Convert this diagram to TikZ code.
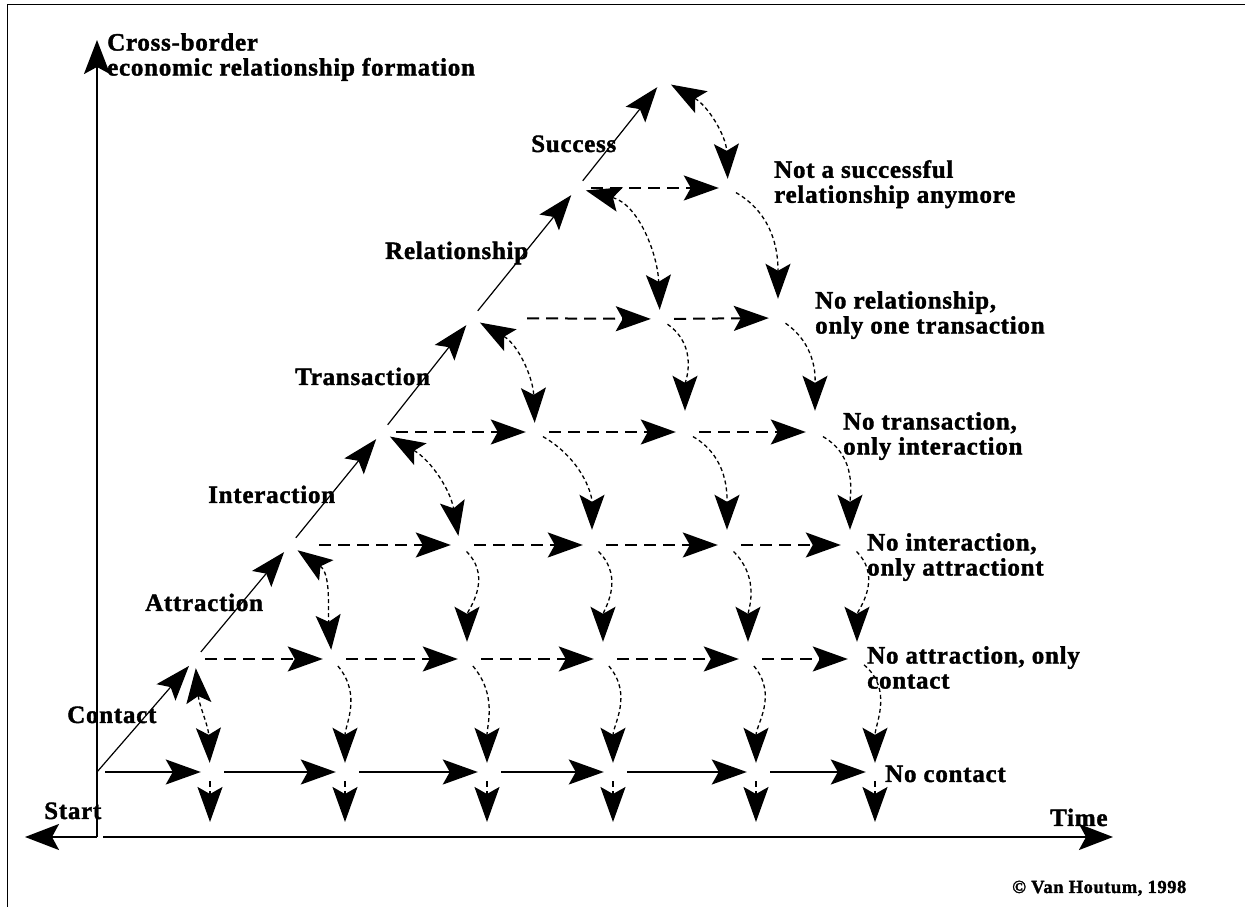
\documentclass[tikz,border=0pt]{standalone}
\usepackage{fontspec}
\setmainfont{Liberation Serif}[LetterSpace=3,BoldFeatures={FakeBold=1.5}]
\usetikzlibrary{arrows.meta}
\tikzset{
  bigtip/.tip={Stealth[length=35pt,width=25pt,inset=7pt]},
  axtip/.tip={Stealth[length=34pt,width=26pt,inset=7pt]},
  pt/.style={circle,inner sep=0pt,minimum size=18pt},
  axisline/.style={line width=2pt,-axtip},
  solidh/.style={line width=2pt,-bigtip,shorten <=5pt},
  dashh/.style={line width=2pt,dash pattern=on 12pt off 7pt,-bigtip,shorten <=5pt},
  diagline/.style={line width=1.2pt,-bigtip},
  drop/.style={line width=1.3pt,dash pattern=on 4pt off 3pt,-bigtip},
  dbl/.style={line width=1.3pt,dash pattern=on 4pt off 3pt,bigtip-bigtip},
  downarr/.style={line width=2pt,dash pattern=on 6pt off 4pt,-bigtip},
  lbl/.style={font=\fontsize{25}{25}\selectfont\bfseries,inner sep=0pt,align=left},
  frameline/.style={line width=1pt},
}
\begin{document}
\begin{tikzpicture}[x=1pt,y=1pt]
\useasboundingbox (0,0) rectangle (1245,907);
\draw[frameline] (7,0) -- (7,902) -- (1245,902);

% axes
\coordinate (O) at (97,70);
\coordinate (Oright) at (103,70);
\coordinate (xtip) at (1113,70);
\coordinate (xneg) at (25,70);
\coordinate (ytip) at (97,867);
\draw[axisline] (O) -- (ytip);
\draw[axisline] (Oright) -- (xtip);
\draw[axisline] (O) -- (xneg);
\coordinate (low) at (0,85);

% grid points
\coordinate (p00) at (97,135);
\node[pt] (p01) at (210,135) {};
\node[pt] (p02) at (345,135) {};
\node[pt] (p03) at (487,135) {};
\node[pt] (p04) at (613,135) {};
\node[pt] (p05) at (756,135) {};
\node[pt] (p06) at (875,135) {};
\node[pt] (p11) at (195,248) {};
\node[pt] (p12) at (332,248) {};
\node[pt] (p13) at (467,248) {};
\node[pt] (p14) at (603,248) {};
\node[pt] (p15) at (748,248) {};
\node[pt] (p16) at (857,248) {};
\node[pt] (p22) at (290,362) {};
\node[pt] (p23) at (460,362) {};
\node[pt] (p24) at (592,362) {};
\node[pt] (p25) at (727,362) {};
\node[pt] (p26) at (850,362) {};
\node[pt] (p33) at (382,475) {};
\node[pt] (p34) at (535,475) {};
\node[pt] (p35) at (685,475) {};
\node[pt] (p36) at (815,475) {};
\node[pt] (p44) at (472,589) {};
\node[pt] (p45) at (660,588) {};
\node[pt] (p46) at (778,589) {};
\node[pt] (p55) at (577,719) {};
\node[pt] (p56) at (728,719) {};
\node[pt] (p66) at (663,827) {};

% diagonal
\draw[diagline] (p00) -- (p11);
\draw[diagline] (p11) -- (p22);
\draw[diagline] (p22) -- (p33);
\draw[diagline] (p33) -- (p44);
\draw[diagline] (p44) -- (p55);
\draw[diagline] (p55) -- (p66);

% row 0 (solid)
\draw[solidh,shorten <=8pt] (p00) -- (p01);
\draw[solidh] (p01) -- (p02);
\draw[solidh] (p02) -- (p03);
\draw[solidh] (p03) -- (p04);
\draw[solidh] (p04) -- (p05);
\draw[solidh] (p05) -- (p06);
% row 1
\draw[dashh,shorten <=1pt] (p11) -- (p12);
\draw[dashh] (p12) -- (p13);
\draw[dashh] (p13) -- (p14);
\draw[dashh] (p14) -- (p15);
\draw[dashh] (p15) -- (p16);
% row 2
\draw[dashh,shorten <=20pt] (p22) -- (p23);
\draw[dashh] (p23) -- (p24);
\draw[dashh] (p24) -- (p25);
\draw[dashh] (p25) -- (p26);
% row 3
\draw[dashh] (p33) -- (p34);
\draw[dashh] (p34) -- (p35);
\draw[dashh] (p35) -- (p36);
% row 4
\draw[dashh,shorten <=46pt] (p44) -- (p45);
\draw[dashh] (p45) -- (p46);
% row 5
\draw[dashh] (p55) -- (p56);

% short drops below row 0
\draw[downarr] (p01) -- (p01 |- low);
\draw[downarr] (p02) -- (p02 |- low);
\draw[downarr] (p03) -- (p03 |- low);
\draw[downarr] (p04) -- (p04 |- low);
\draw[downarr] (p05) -- (p05 |- low);
\draw[downarr] (p06) -- (p06 |- low);

% double-headed returns from the diagonal
\draw[dbl] (p11) to[out=-85,in=92] (p01);
\draw[dbl] (p22) to[out=-35,in=95] (p12);
\draw[dbl] (p33) to[out=-30,in=100] (p23);
\draw[dbl] (p44) to[out=-30,in=92] (p34);
\draw[dbl] (p55) to[out=-15,in=92] (p45);
\draw[dbl] (p66) to[out=-30,in=92] (p56);

% drops row 1 -> row 0
\draw[drop] (p12) to[out=-50,in=90] (p02);
\draw[drop] (p13) to[out=-50,in=90] (p03);
\draw[drop] (p14) to[out=-50,in=90] (p04);
\draw[drop] (p15) to[out=-50,in=90] (p05);
\draw[drop] (p16) to[out=-40,in=90] (p06);
% row 2 -> row 1
\draw[drop,shorten >=8pt] (p23) to[out=-45,in=90] (p13);
\draw[drop,shorten >=8pt] (p24) to[out=-45,in=90] (p14);
\draw[drop,shorten >=8pt] (p25) to[out=-45,in=90] (p15);
\draw[drop,shorten >=8pt] (p26) to[out=-45,in=90] (p16);
% row 3 -> row 2
\draw[drop,shorten >=6pt] (p34) to[out=-30,in=90] (p24);
\draw[drop,shorten >=6pt] (p35) to[out=-30,in=90] (p25);
\draw[drop,shorten >=6pt] (p36) to[out=-30,in=90] (p26);
% row 4 -> row 3
\draw[drop,shorten >=12pt] (p45) to[out=-35,in=90] (p35);
\draw[drop,shorten >=12pt] (p46) to[out=-35,in=90] (p36);
% row 5 -> row 4
\draw[drop,shorten >=10pt] (p56) to[out=-30,in=90] (p46);

% labels
\node[lbl,anchor=north west] (ylab) at (107,874) {Cross-border\\economic relationship formation};
\node[lbl,anchor=base west] (lsucc) at (531,755) {Success};
\node[lbl,anchor=base west] (lrel) at (385,648) {Relationship};
\node[lbl,anchor=base west] (ltra) at (295,522) {Transaction};
\node[lbl,anchor=base west] (lint) at (208,404) {Interaction};
\node[lbl,anchor=base west] (latt) at (145,296) {Attraction};
\node[lbl,anchor=base west] (lcon) at (67,184) {Contact};
\node[lbl,anchor=base west] (lstart) at (44,88) {Start};
\node[lbl,anchor=base west] (ltime) at (1050,81) {Time};
\node[lbl,anchor=base west] (r0) at (885,125) {No contact};
\node[lbl,anchor=north west] (r1) at (867,261) {No attraction, only\\contact};
\node[lbl,anchor=north west] (r2) at (867,374) {No interaction,\\only attractiont};
\node[lbl,anchor=north west] (r3) at (843,495) {No transaction,\\only interaction};
\node[lbl,anchor=north west] (r4) at (815,616) {No relationship,\\only one transaction};
\node[lbl,anchor=north west] (r5) at (774,747) {Not a successful\\relationship anymore};
\node[anchor=base west,inner sep=0pt,font=\fontsize{18.5}{20}\selectfont\bfseries] (copy) at (1012,14) {\textcopyright{} Van Houtum, 1998};
\end{tikzpicture}
\end{document}
